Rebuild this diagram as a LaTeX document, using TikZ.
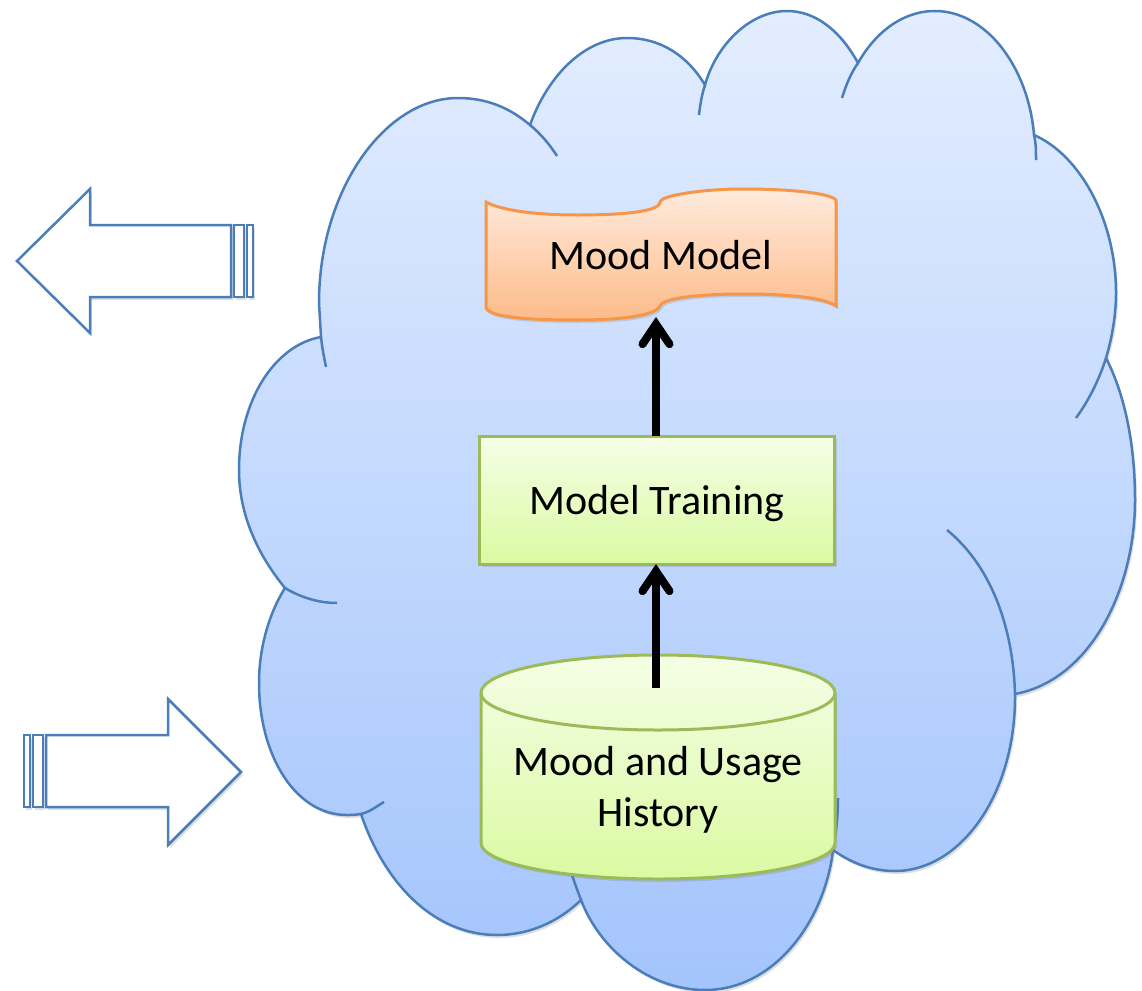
\documentclass[tikz,border=0pt]{standalone}
\usepackage{xcolor}
\usepackage{fontspec}
\setmainfont{Carlito}
\usetikzlibrary{arrows.meta,shadows}
\definecolor{cloudline}{HTML}{4A7EBB}
\definecolor{greenline}{HTML}{9BBB59}
\definecolor{orangeline}{HTML}{F79646}
\newcommand*{\boxtextstyle}{\fontsize{42}{51}\selectfont\color{black}}
\tikzset{
  softshadow/.style = {drop shadow = {opacity = 0.25, shadow xshift = 2pt, shadow yshift = -3pt}},
  cloudbody/.style = {draw = cloudline, line width = 2.5pt, top color = cloudtop, bottom color = cloudbottom, softshadow},
  cloudstub/.style = {draw = cloudline, line width = 2.5pt},
  blockarrow/.style = {draw = cloudline, line width = 2.5pt, fill = white, softshadow},
  greenbox/.style = {draw = greenline, line width = 3pt, top color = greentop, bottom color = greenbottom, softshadow},
  orangebox/.style = {draw = orangeline, line width = 3pt, top color = orangetop, bottom color = orangebottom, softshadow},
  boxlabel/.style = {font = \boxtextstyle, align = center, inner sep = 0pt, outer sep = 0pt},
  flowarrow/.style = {draw = black, line width = 8pt, -{Straight Barb[line cap = round, line join = miter, length = 20pt, width = 27pt]}}
}
\definecolor{cloudtop}{HTML}{E3EDFF}
\definecolor{cloudbottom}{HTML}{A3C4FC}
\definecolor{greentop}{HTML}{F5FEE6}
\definecolor{greenbottom}{HTML}{DAFAA2}
\definecolor{orangetop}{HTML}{FFEBDD}
\definecolor{orangebottom}{HTML}{FDBB8A}

\begin{document}
\begin{tikzpicture}[x = 1pt, y = -1pt]
  \useasboundingbox (0,0) rectangle (1142,990);
  % cloud outline, lobe by lobe
  \path[cloudbody] (321,337) -- (319,303)
    .. controls (319,190) and (385,98) .. (458,98)
    .. controls (487,98) and (510,108) .. (530,125)
    .. controls (548,75) and (585,38) .. (627,38)
    .. controls (660,38) and (687,55) .. (705,85)
    .. controls (716,45) and (750,11) .. (787,11)
    .. controls (815,11) and (840,30) .. (858,63)
    .. controls (875,33) and (902,11) .. (935,11)
    .. controls (985,11) and (1028,65) .. (1034,135)
    .. controls (1080,155) and (1116,220) .. (1116,293)
    .. controls (1116,315) and (1112,338) .. (1106,358)
    .. controls (1125,395) and (1135,445) .. (1135,500)
    .. controls (1135,590) and (1090,680) .. (1015,694)
    .. controls (1016,795) and (960,871) .. (895,871)
    .. controls (870,871) and (850,862) .. (833,850)
    .. controls (825,920) and (775,990) .. (705,990)
    .. controls (650,990) and (600,950) .. (581,900)
    .. controls (555,925) and (525,935) .. (497,935)
    .. controls (435,935) and (385,885) .. (361,814)
    .. controls (355,815) and (350,815) .. (347,815)
    .. controls (295,815) and (259,755) .. (259,683)
    .. controls (259,650) and (268,615) .. (285,588)
    .. controls (258,555) and (239,515) .. (239,470)
    .. controls (239,400) and (275,345) .. (321,337) -- cycle;
  % the short inner strokes of the cloud
  \draw[cloudstub] (530,125) .. controls (541,134) and (550,145) .. (557,156);
  \draw[cloudstub] (705,85) .. controls (702,94) and (700,105) .. (699,115);
  \draw[cloudstub] (858,63) .. controls (851,73) and (846,85) .. (842,98);
  \draw[cloudstub] (1034,135) .. controls (1036,143) and (1036,152) .. (1036,160);
  \draw[cloudstub] (1106,358) .. controls (1099,380) and (1089,400) .. (1076,418);
  \draw[cloudstub] (1015,694) .. controls (1013,625) and (990,565) .. (947,530);
  \draw[cloudstub] (833,850) .. controls (836,835) and (838,815) .. (838,798);
  \draw[cloudstub] (581,900) .. controls (578,892) and (575,884) .. (571,872);
  \draw[cloudstub] (361,814) .. controls (370,812) and (377,806) .. (384,802);
  \draw[cloudstub] (285,588) .. controls (300,597) and (318,603) .. (337,603);
  \draw[cloudstub] (321,337) .. controls (322,347) and (324,357) .. (326,367);
  % outgoing arrow
  \path[blockarrow] (17,261) -- (90,189) -- (90,225) -- (231,225) -- (231,297)
    -- (90,297) -- (90,333) -- cycle;
  \path[blockarrow] (234,225) rectangle (244,297);
  \path[blockarrow] (247,225) rectangle (253,297);
  % incoming arrow
  \path[blockarrow] (241,772) -- (168,699) -- (168,735) -- (46,735) -- (46,807)
    -- (168,807) -- (168,845) -- cycle;
  \path[blockarrow] (33,735) rectangle (43,807);
  \path[blockarrow] (24,735) rectangle (30,807);
  % stores and boxes
  \path[orangebox] (486,202) .. controls (500,210) and (535,215) .. (577,215)
    .. controls (620,215) and (660,212) .. (660,202)
    .. controls (660,196) and (700,189) .. (743,189)
    .. controls (790,189) and (830,193) .. (836,200) -- (836,306)
    .. controls (825,298) and (790,294) .. (743,294)
    .. controls (700,294) and (662,298) .. (660,306)
    .. controls (655,316) and (620,320) .. (577,320)
    .. controls (535,320) and (490,318) .. (486,308) -- cycle;
  \path[greenbox] (481,693) .. controls (481,672) and (560,655) .. (658,655)
    .. controls (756,655) and (835,672) .. (835,693) -- (835,843)
    .. controls (835,863) and (756,879) .. (658,879)
    .. controls (560,879) and (481,863) .. (481,843) -- cycle;
  \draw[draw = greenline, line width = 3pt] (481,693) .. controls (481,713) and (560,730) .. (658,730)
    .. controls (756,730) and (835,713) .. (835,693);
  \node[greenbox, minimum width = 355pt, minimum height = 128pt, outer sep = 0pt, inner sep = 0pt, font = \boxtextstyle, text depth = 0pt] (training) at (657,500) {Model Training};
  \node[boxlabel, minimum width = 349pt, minimum height = 124pt] (moodmodel) at (661,255) {Mood Model};
  \node[boxlabel] (usage) at (658,790) {Mood and Usage\\History};
  \coordinate (usagetail) at (656,688);
  \draw[flowarrow] (usagetail) -- (usagetail |- training.south);
  \draw[flowarrow] (usagetail |- training.north) -- (usagetail |- moodmodel.south);
\end{tikzpicture}
\end{document}
